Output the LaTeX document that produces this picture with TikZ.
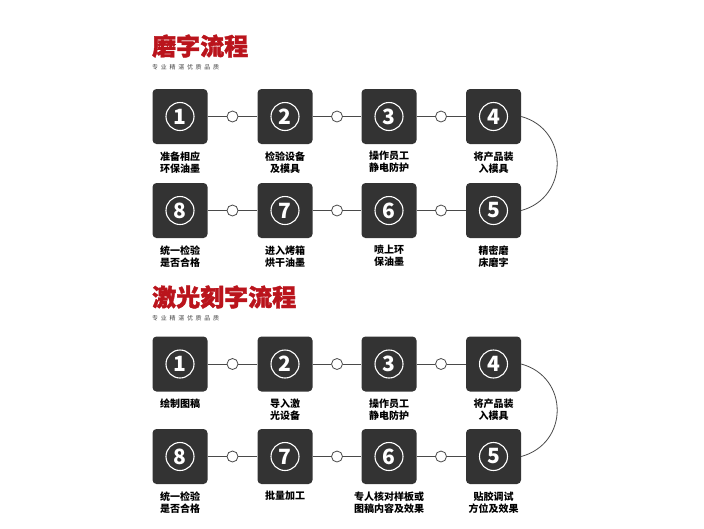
\documentclass[tikz,border=0pt]{standalone}
\usepackage{fontspec}
\newfontfamily\cjk{Noto Sans CJK SC}
\definecolor{boxc}{HTML}{333333}
\definecolor{linec}{HTML}{4A4A4A}
\definecolor{titlered}{HTML}{BA141C}
\definecolor{subc}{HTML}{444444}
\begin{document}
\begin{tikzpicture}[x=1pt,y=-1pt,
  stepbox/.style={fill=boxc, rounded corners=4pt, minimum size=55pt, inner sep=0pt},
  num/.style={circle, draw=white, line width=1.1pt, minimum size=28pt, inner sep=0pt, text=white, font=\cjk\bfseries\fontsize{21}{21}\selectfont},
  lbl/.style={anchor=north, align=center, inner sep=0pt, font=\cjk\bfseries\fontsize{10}{12}\selectfont, text=black},
  dot/.style={circle, draw=linec, fill=white, line width=0.8pt, minimum size=11pt, inner sep=0pt},
  conn/.style={draw=linec, line width=0.8pt},
  ttl/.style={anchor=west, inner sep=0pt, text=titlered, font=\cjk\bfseries\fontsize{24}{24}\selectfont\addfontfeature{FakeBold=1.6}},
  subt/.style={anchor=west, inner sep=0pt, text=subc, font=\cjk\fontsize{6}{6}\selectfont\addfontfeature{LetterSpace=45}}]
\useasboundingbox (0,0) rectangle (704,528);

% ---------- Section 1 ----------
\node[ttl] (t1) at (152,46) {磨字流程};
\node[subt] (st1) at (152,67) {专业精湛优质品质};

\node[stepbox] (a1) at (180,116.5) {};
\node[stepbox] (a2) at (285,116.5) {};
\node[stepbox] (a3) at (389,116.5) {};
\node[stepbox] (a4) at (493.5,116.5) {};
\node[stepbox] (a8) at (180,210.5) {};
\node[stepbox] (a7) at (285,210.5) {};
\node[stepbox] (a6) at (389,210.5) {};
\node[stepbox] (a5) at (493.5,210.5) {};

\node[num] (an1) at (a1) {1};
\node[num] (an2) at (a2) {2};
\node[num] (an3) at (a3) {3};
\node[num] (an4) at (a4) {4};
\node[num] (an8) at (a8) {8};
\node[num] (an7) at (a7) {7};
\node[num] (an6) at (a6) {6};
\node[num] (an5) at (a5) {5};

\node[dot] (ad1) at (232.5,116.5) {};
\node[dot] (ad2) at (337,116.5) {};
\node[dot] (ad3) at (441,116.5) {};
\node[dot] (ad4) at (232.5,210.5) {};
\node[dot] (ad5) at (337,210.5) {};
\node[dot] (ad6) at (441,210.5) {};

\draw[conn] (a1) -- (ad1) -- (a2);
\draw[conn] (a2) -- (ad2) -- (a3);
\draw[conn] (a3) -- (ad3) -- (a4);
\draw[conn] (a8) -- (ad4) -- (a7);
\draw[conn] (a7) -- (ad5) -- (a6);
\draw[conn] (a6) -- (ad6) -- (a5);
\draw[conn] (a4.east) .. controls +(48,13) and +(48,-13) .. (a5.east);

\node[lbl] (al1) at ([yshift=-7pt]a1.south) {准备相应\\环保油墨};
\node[lbl] (al2) at ([yshift=-7pt]a2.south) {检验设备\\及模具};
\node[lbl] (al3) at ([yshift=-7pt]a3.south) {操作员工\\静电防护};
\node[lbl] (al4) at ([yshift=-7pt]a4.south) {将产品装\\入模具};
\node[lbl] (al8) at ([yshift=-7pt]a8.south) {统一检验\\是否合格};
\node[lbl] (al7) at ([yshift=-7pt]a7.south) {进入烤箱\\烘干油墨};
\node[lbl] (al6) at ([yshift=-7pt]a6.south) {喷上环\\保油墨};
\node[lbl] (al5) at ([yshift=-7pt]a5.south) {精密磨\\床磨字};

% ---------- Section 2 ----------
\node[ttl] (t2) at (152,297) {激光刻字流程};
\node[subt] (st2) at (152,318) {专业精湛优质品质};

\node[stepbox] (b1) at (180,364) {};
\node[stepbox] (b2) at (285,364) {};
\node[stepbox] (b3) at (389,364) {};
\node[stepbox] (b4) at (493.5,364) {};
\node[stepbox] (b8) at (180,456.5) {};
\node[stepbox] (b7) at (285,456.5) {};
\node[stepbox] (b6) at (389,456.5) {};
\node[stepbox] (b5) at (493.5,456.5) {};

\node[num] (bn1) at (b1) {1};
\node[num] (bn2) at (b2) {2};
\node[num] (bn3) at (b3) {3};
\node[num] (bn4) at (b4) {4};
\node[num] (bn8) at (b8) {8};
\node[num] (bn7) at (b7) {7};
\node[num] (bn6) at (b6) {6};
\node[num] (bn5) at (b5) {5};

\node[dot] (bd1) at (232.5,364) {};
\node[dot] (bd2) at (337,364) {};
\node[dot] (bd3) at (441,364) {};
\node[dot] (bd4) at (232.5,456.5) {};
\node[dot] (bd5) at (337,456.5) {};
\node[dot] (bd6) at (441,456.5) {};

\draw[conn] (b1) -- (bd1) -- (b2);
\draw[conn] (b2) -- (bd2) -- (b3);
\draw[conn] (b3) -- (bd3) -- (b4);
\draw[conn] (b8) -- (bd4) -- (b7);
\draw[conn] (b7) -- (bd5) -- (b6);
\draw[conn] (b6) -- (bd6) -- (b5);
\draw[conn] (b4.east) .. controls +(48,13) and +(48,-13) .. (b5.east);

\node[lbl] (bl1) at ([yshift=-7pt]b1.south) {绘制图稿};
\node[lbl] (bl2) at ([yshift=-7pt]b2.south) {导入激\\光设备};
\node[lbl] (bl3) at ([yshift=-7pt]b3.south) {操作员工\\静电防护};
\node[lbl] (bl4) at ([yshift=-7pt]b4.south) {将产品装\\入模具};
\node[lbl] (bl8) at ([yshift=-7pt]b8.south) {统一检验\\是否合格};
\node[lbl] (bl7) at ([yshift=-7pt]b7.south) {批量加工};
\node[lbl] (bl6) at ([yshift=-7pt]b6.south) {专人核对样板或\\图稿内容及效果};
\node[lbl] (bl5) at ([yshift=-7pt]b5.south) {贴胶调试\\方位及效果};
\end{tikzpicture}
\end{document}
